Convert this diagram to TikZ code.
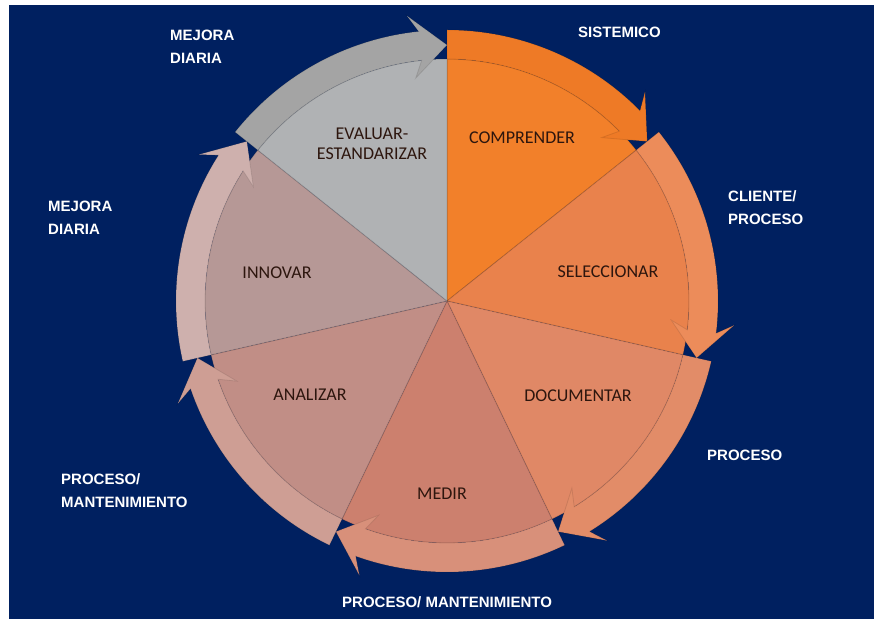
\documentclass[tikz,border=0pt]{standalone}
\usepackage{fontspec}
\setmainfont{Liberation Sans}
\newfontfamily\calib{Carlito}
\definecolor{fondo}{RGB}{0,32,96}
\definecolor{texto}{RGB}{45,22,14}
\definecolor{wComp}{RGB}{242,128,42}
\definecolor{bComp}{RGB}{238,122,38}
\definecolor{wSel}{RGB}{233,130,76}
\definecolor{bSel}{RGB}{236,140,90}
\definecolor{wDoc}{RGB}{224,136,102}
\definecolor{bDoc}{RGB}{226,140,104}
\definecolor{wMed}{RGB}{204,128,110}
\definecolor{bMed}{RGB}{216,144,122}
\definecolor{wAna}{RGB}{193,142,134}
\definecolor{bAna}{RGB}{206,158,148}
\definecolor{wInn}{RGB}{182,152,150}
\definecolor{bInn}{RGB}{206,176,173}
\definecolor{wEval}{RGB}{176,178,180}
\definecolor{bEval}{RGB}{164,164,164}
\usetikzlibrary{positioning}

\begin{document}
\begin{tikzpicture}[x=1pt, y=1pt,
	wedge/.style={draw=black, draw opacity=0.12, line width=1pt},
	band/.style={draw=black, draw opacity=0.10, line width=0.8pt},
	paso/.style={font=\calib\fontsize{18}{20}\selectfont, text=texto, align=center},
	etq/.style={font=\bfseries\fontsize{15}{23}\selectfont, text=white, align=left, anchor=west, inner sep=0pt}]
	\useasboundingbox (0,0) rectangle (874,619);
	\fill[white] (0,0) rectangle (874,619);
	\fill[fondo] (9,0) rectangle (874,614);

	% wheel: seven wedges, each with its curved arrow
	\begin{scope}[shift={(447,318)}]
	\foreach \i/\wc/\bc in {0/wComp/bComp, 1/wSel/bSel, 2/wDoc/bDoc, 3/wMed/bMed, 4/wAna/bAna, 5/wInn/bInn, 6/wEval/bEval} {
		\pgfmathsetmacro{\s}{90-\i*360/7}
		\pgfmathsetmacro{\e}{\s-360/7}
		\pgfmathsetmacro{\h}{\e+6}
		\pgfmathsetmacro{\b}{\e+8}
		\filldraw[wedge, fill=\wc] (0,0) -- (\s:242) arc[start angle=\s, end angle=\e, radius=242] -- cycle;
		\filldraw[band, fill=\bc] (\s:271) arc[start angle=\s, end angle=\h, radius=271]
			-- (\b:288) -- (\e:256) -- (\b:225) -- (\h:242)
			arc[start angle=\h, end angle=\s, radius=242] -- cycle;
	}
	\end{scope}

	% step names
	\node[paso] (comp) at (522,481) {COMPRENDER};
	\node[paso] (sel) at (608,347) {SELECCIONAR};
	\node[paso] (doc) at (578,223) {DOCUMENTAR};
	\node[paso] (med) at (442,125) {MEDIR};
	\node[paso] (ana) at (310,224) {ANALIZAR};
	\node[paso] (inn) at (277,346) {INNOVAR};
	\node[paso] (eval) at (372,475) {EVALUAR-\\ESTANDARIZAR};

	% outer labels
	\node[etq] (mejA) at (170,572) {MEJORA\\DIARIA};
	\node[etq] (sist) at (578,587) {SISTEMICO};
	\node[etq] (cli) at (728,411) {CLIENTE/\\PROCESO};
	\node[etq] (mejB) at (48,401) {MEJORA\\DIARIA};
	\node[etq] (proc) at (707,164) {PROCESO};
	\node[etq] (mantA) at (61,128) {PROCESO/\\MANTENIMIENTO};
	\node[etq] (mantB) at (342,17) {PROCESO/ MANTENIMIENTO};
\end{tikzpicture}
\end{document}
